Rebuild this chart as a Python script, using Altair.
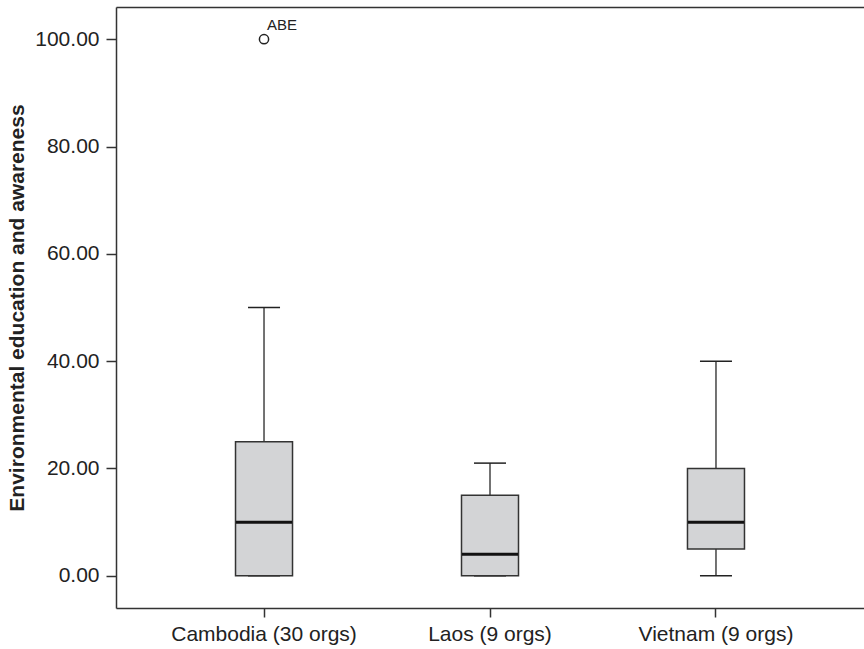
import altair as alt
import pandas as pd

countries = ["Cambodia (30 orgs)", "Laos (9 orgs)", "Vietnam (9 orgs)"]
lower = [0, 0, 0]
q1 = [0, 0, 5]
median = [10, 4, 10]
q3 = [25, 15, 20]
upper = [50, 21, 40]

outlier_country = ["Cambodia (30 orgs)"]
outlier_value = [100]
outlier_label = ["ABE"]

box = pd.DataFrame({"country": countries, "lower": lower, "q1": q1,
                    "median": median, "q3": q3, "upper": upper})
out = pd.DataFrame({"country": outlier_country, "value": outlier_value,
                    "label": outlier_label})

FONT = "Liberation Sans"
TXT = "#222222"
LINE = "#333333"

xscale = alt.Scale(domain=countries, paddingInner=0, paddingOuter=0.155)
yscale = alt.Scale(domain=[-6, 106], nice=False, zero=False)

x_bottom = alt.X("country:N", scale=xscale, sort=countries, title=None,
                 axis=alt.Axis(orient="bottom", labelAngle=0, labelFontSize=21,
                               labelFont=FONT, labelColor=TXT, tickSize=9,
                               tickColor=LINE, tickWidth=1.5, domainColor=LINE,
                               domainWidth=1.5, labelPadding=6, labelLimit=0))
x_top = alt.X("country:N", scale=xscale, sort=countries, title=None,
              axis=alt.Axis(orient="top", labels=False, ticks=False,
                            domainColor=LINE, domainWidth=1.5))
x_none = alt.X("country:N", scale=xscale, sort=countries, axis=None)

y_axis = alt.Y("lower:Q", scale=yscale,
               title="Environmental education and awareness",
               axis=alt.Axis(values=[0, 20, 40, 60, 80, 100], format=".2f",
                             labelFontSize=21, labelFont=FONT, labelColor=TXT,
                             tickSize=10, tickColor=LINE, tickWidth=1.5,
                             domainColor=LINE, domainWidth=1.5, labelPadding=7,
                             grid=False, titleFont=FONT, titleFontSize=21,
                             titleFontWeight="bold", titleColor=TXT,
                             titlePadding=7))

base = alt.Chart(box)

whisker_low = base.mark_rule(color="#444444", strokeWidth=1.5).encode(
    x=x_bottom, y=y_axis, y2="q1:Q")
whisker_high = base.mark_rule(color="#444444", strokeWidth=1.5).encode(
    x=x_top, y=alt.Y("q3:Q", scale=yscale), y2="upper:Q")
cap_low = base.mark_tick(color="#222222", size=32, thickness=1.5,
                         opacity=1).encode(
    x=x_none, y=alt.Y("lower:Q", scale=yscale))
cap_high = base.mark_tick(color="#222222", size=32, thickness=1.5,
                          opacity=1).encode(
    x=x_none, y=alt.Y("upper:Q", scale=yscale))
boxes = base.mark_bar(size=57, fill="#d3d4d6", stroke=LINE,
                      strokeWidth=1.5).encode(
    x=x_none, y=alt.Y("q1:Q", scale=yscale), y2="q3:Q")
med = base.mark_tick(color="#111111", size=56, thickness=3,
                     opacity=1).encode(
    x=x_none, y=alt.Y("median:Q", scale=yscale))

pts = alt.Chart(out).mark_point(shape="circle", size=85, filled=False,
                                color="#222222", strokeWidth=1.5,
                                opacity=1).encode(
    x=x_none, y=alt.Y("value:Q", scale=yscale))
lbl = alt.Chart(out).mark_text(align="left", baseline="bottom", dx=3, dy=-6,
                               fontSize=15, font=FONT, color=TXT).encode(
    x=x_none, y=alt.Y("value:Q", scale=yscale), text="label:N")

chart = alt.layer(whisker_low, whisker_high, cap_low, cap_high, boxes, med,
                  pts, lbl).resolve_axis(x="independent").properties(
    width=748, height=601,
    autosize=alt.AutoSizeParams(type="none"),
    padding={"left": 116, "top": 7, "right": 0, "bottom": 41},
    background="white",
).configure_view(stroke=None)

chart.save("out.html", embed_options={"renderer": "svg", "actions": False})
